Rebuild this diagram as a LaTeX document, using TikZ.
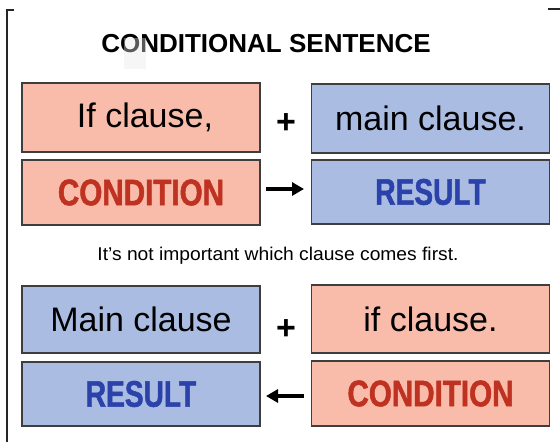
\documentclass[tikz,border=0pt]{standalone}
\usepackage{fontspec}
\setmainfont{Liberation Sans}
\newfontfamily\heavyfont[FakeStretch=0.8,BoldFeatures={FakeBold=1.3}]{Liberation Sans}
\usetikzlibrary{arrows.meta}
\definecolor{pinkfill}{HTML}{F9BCAB}
\definecolor{bluefill}{HTML}{AABCE2}
\definecolor{boxline}{HTML}{3E3E3E}
\definecolor{condred}{HTML}{BF3120}
\definecolor{resblue}{HTML}{2C42AB}
\begin{document}
\begin{tikzpicture}[x=1pt,y=-1pt,
  pinkbox/.style={draw=boxline,line width=1.3pt,fill=pinkfill,minimum width=238pt,inner sep=0pt},
  bluebox/.style={draw=boxline,line width=1.3pt,fill=bluefill,minimum width=238pt,inner sep=0pt},
  clausetext/.style={font=\fontsize{34}{36}\selectfont,text=black},
  condtext/.style={font=\heavyfont\bfseries\fontsize{37}{40}\selectfont,text=condred},
  restext/.style={font=\heavyfont\bfseries\fontsize{37}{40}\selectfont,text=resblue},
  plussign/.style={font=\fontsize{34}{36}\selectfont\bfseries,inner sep=0pt},
  arrowline/.style={line width=3.4pt,-{Triangle[length=12pt,width=13pt]}},
  frameline/.style={line width=1.4pt,black!85}]
\useasboundingbox (0,0) rectangle (560,442);
\fill[white] (0,0) rectangle (560,442);
% frame marks
\draw[frameline] (14,10) -- (7,10) -- (7,442);
\draw[frameline] (548,9) -- (560,9);
% artifact behind title
\fill[gray!10] (124,38) rectangle (146,69);
\node[font=\fontsize{26}{28}\selectfont\bfseries,inner sep=0pt] (title) at (266,44) {CONDITIONAL SENTENCE};
\fill[white,opacity=0.35] (124,38) rectangle (146,69);
% top pair
\node[pinkbox,minimum height=69pt] (if1) at (141,117.5) {};
\node[clausetext] at ([xshift=4pt]if1.center) {If clause,};
\node[bluebox,minimum height=69pt] (main1) at (430.5,118.5) {};
\node[clausetext] at (main1.center) {main clause.};
\node[pinkbox,minimum height=65pt] (cond1) at (141,192.5) {};
\node[condtext] at (cond1.center) {CONDITION};
\node[bluebox,minimum height=64pt] (res1) at (430.5,192) {};
\node[restext] at (res1.center) {\scalebox{0.95}[1]{RESULT}};
\node[plussign] (plus1) at (286,124) {+};
\coordinate (a1s) at (266,189);
\coordinate (a1e) at (304,189);
\draw[arrowline] (a1s) -- (a1e);
% sentence
\node[font=\fontsize{18.5}{20}\selectfont] (note) at (278,256) {\scalebox{1.04}[1]{It’s not important which clause comes first.}};
% bottom pair
\node[bluebox,minimum height=67pt] (main2) at (141,319.5) {};
\node[clausetext] at (main2.center) {Main clause};
\node[pinkbox,minimum height=68pt] (if2) at (430.5,319) {};
\node[clausetext] at (if2.center) {if clause.};
\node[bluebox,minimum height=64pt] (res2) at (141,394) {};
\node[restext] at (res2.center) {\scalebox{0.95}[1]{RESULT}};
\node[pinkbox,minimum height=65pt] (cond2) at (430.5,393.5) {};
\node[condtext] at (cond2.center) {CONDITION};
\node[plussign] (plus2) at (286,330) {+};
\coordinate (a2s) at (304,396);
\coordinate (a2e) at (266,396);
\draw[arrowline] (a2s) -- (a2e);
\end{tikzpicture}
\end{document}
